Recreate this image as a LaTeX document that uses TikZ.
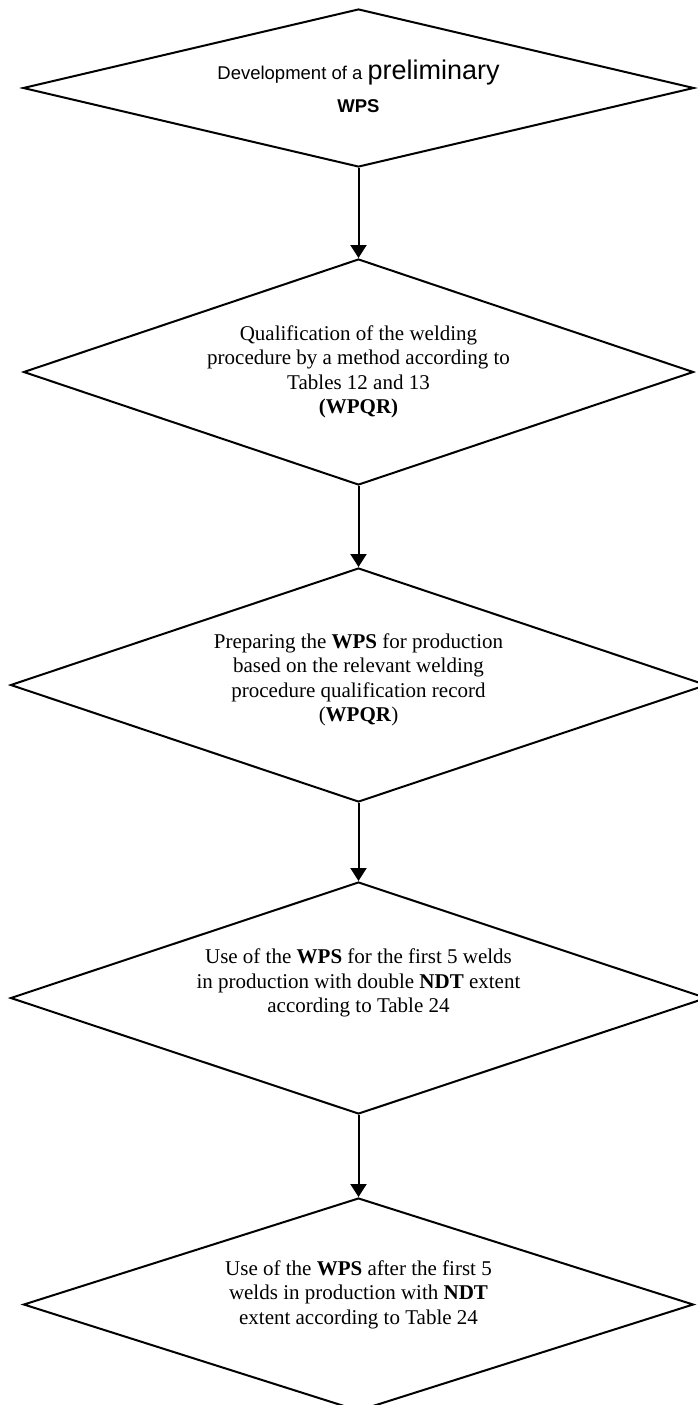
\documentclass[tikz,border=0pt]{standalone}
\usepackage{fontspec}
\setmainfont{Liberation Serif}
\newfontfamily\arialfont{Liberation Sans}
\usetikzlibrary{shapes.geometric,arrows.meta,positioning}
\tikzset{
  rombo/.style={diamond, draw=black, line width=2pt, inner sep=0pt},
  texto/.style={align=center, inner sep=0pt,
                font=\fontsize{21}{24.5}\selectfont},
  flecha/.style={-{Triangle[length=13pt,width=16pt]}, line width=2pt}
}
\begin{document}
\begin{tikzpicture}[x=1pt, y=1pt, node distance=80pt]
  \useasboundingbox (0,0) rectangle (698,-1405);
  % Rombos
  \node[rombo, minimum width=671pt, minimum height=158pt] (d1) at (358.5,-88) {};
  \node[rombo, minimum width=670pt, minimum height=226pt, below=90pt of d1] (d2) {};
  \node[rombo, minimum width=696pt, minimum height=234pt, below=81pt of d2] (d3) {};
  \node[rombo, minimum width=696pt, minimum height=232pt, below=78pt of d3] (d4) {};
  \node[rombo, minimum width=670pt, minimum height=213pt, below=82pt of d4] (d5) {};

  % Textos
  \node[texto, font=\arialfont\fontsize{18.5}{33}\selectfont] (t1) at ([yshift=2pt]d1.center)
       {Development of a {\fontsize{27}{33}\selectfont preliminary}\\\textbf{WPS}};
  \node[texto] (t2) at (d2) {Qualification of the welding\\procedure by a method according to\\
       Tables 12 and 13\\\textbf{(WPQR)}};
  \node[texto] (t3) at ([yshift=5pt]d3.center) {Preparing the \textbf{WPS} for production\\
       based on the relevant welding\\procedure qualification record\\(\textbf{WPQR})};
  \node[texto] (t4) at ([yshift=15pt]d4.center) {Use of the \textbf{WPS} for the first 5 welds\\
       in production with double \textbf{NDT} extent\\according to Table 24};
  \node[texto] (t5) at ([yshift=10pt]d5.center) {Use of the \textbf{WPS} after the first 5\\
       welds in production with \textbf{NDT}\\extent according to Table 24};

  % Flechas
  \draw[flecha] (d1) -- (d2);
  \draw[flecha] (d2) -- (d3);
  \draw[flecha] (d3) -- (d4);
  \draw[flecha] (d4) -- (d5);
\end{tikzpicture}
\end{document}
